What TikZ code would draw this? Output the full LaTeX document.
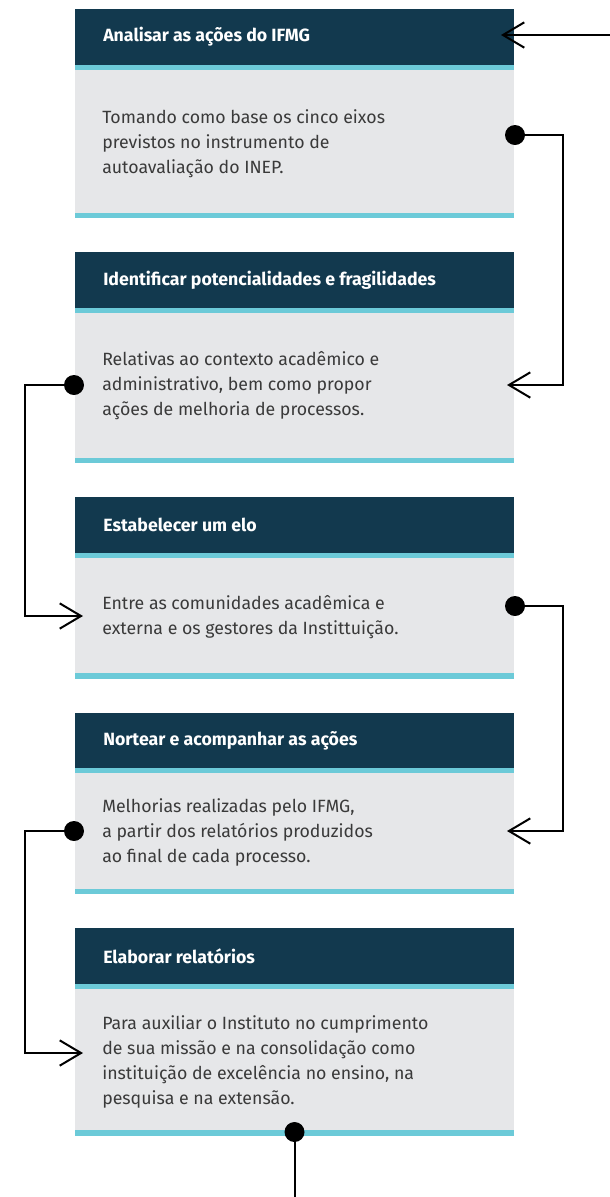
\documentclass[tikz,border=0pt]{standalone}
\usepackage{fontspec}
\setmainfont{Fira Sans}
\usetikzlibrary{arrows.meta}

\definecolor{headcol}{HTML}{12394E}
\definecolor{linecol}{HTML}{6CCAD8}
\definecolor{bodycol}{HTML}{E6E7E9}
\definecolor{textcol}{HTML}{3A3A3A}

\tikzset{
  headtext/.style={anchor=west, text=white, inner sep=0pt, font=\fontsize{13.3}{15}\selectfont\bfseries},
  bodytext/.style={anchor=west, text=textcol, inner sep=0pt, align=left, font=\fontsize{13.3}{18.75}\selectfont},
  conn/.style={line width=1.5pt, -{Straight Barb[length=16pt, width=19pt, line width=1.5pt]}},
  plain/.style={line width=1.5pt},
  dot/.style={fill=black, circle, inner sep=0pt, minimum size=15pt}
}

\begin{document}
\begin{tikzpicture}[x=0.75pt, y=-0.75pt]
    \useasboundingbox (0,0) rectangle (610,1197);
    % box 1
    \begin{scope}[shift={(75,9)}]
      \fill[headcol] (0,0) rectangle (439,56);
      \fill[linecol] (0,56) rectangle (439,61);
      \fill[bodycol] (0,61) rectangle (439,204);
      \fill[linecol] (0,204) rectangle (439,209);
      \node[headtext] (h1) at (28,28) {Analisar as ações do IFMG};
      \node[bodytext] (b1) at (27,135) {Tomando como base os cinco eixos\\previstos no instrumento de\\autoavaliação do INEP.};
      \coordinate (a1) at (426,26);
      \coordinate (d1) at (440,126);
    \end{scope}
    % box 2
    \begin{scope}[shift={(75,252)}]
      \fill[headcol] (0,0) rectangle (439,56);
      \fill[linecol] (0,56) rectangle (439,61);
      \fill[bodycol] (0,61) rectangle (439,206);
      \fill[linecol] (0,206) rectangle (439,211);
      \node[headtext] (h2) at (28,28) {Identificar potencialidades e fragilidades};
      \node[bodytext] (b2) at (27,134) {Relativas ao contexto acadêmico e\\administrativo, bem como propor\\ações de melhoria de processos.};
      \coordinate (a2) at (432,133);
      \coordinate (d2) at (-1,133);
    \end{scope}
    % box 3
    \begin{scope}[shift={(75,497)}]
      \fill[headcol] (0,0) rectangle (439,56);
      \fill[linecol] (0,56) rectangle (439,61);
      \fill[bodycol] (0,61) rectangle (439,176);
      \fill[linecol] (0,176) rectangle (439,182);
      \node[headtext] (h3) at (28,28) {Estabelecer um elo};
      \node[bodytext] (b3) at (27,120) {Entre as comunidades acadêmica e\\externa e os gestores da Instittuição.};
      \coordinate (a3) at (8,119);
      \coordinate (d3) at (440,109);
    \end{scope}
    % box 4
    \begin{scope}[shift={(75,713)}]
      \fill[headcol] (0,0) rectangle (439,55);
      \fill[linecol] (0,55) rectangle (439,60);
      \fill[bodycol] (0,60) rectangle (439,176);
      \fill[linecol] (0,176) rectangle (439,181);
      \node[headtext] (h4) at (28,28) {Nortear e acompanhar as ações};
      \node[bodytext] (b4) at (27,119) {Melhorias realizadas pelo IFMG,\\a partir dos relatórios produzidos\\ao final de cada processo.};
      \coordinate (a4) at (432,118);
      \coordinate (d4) at (-1,118);
    \end{scope}
    % box 5
    \begin{scope}[shift={(75,928)}]
      \fill[headcol] (0,0) rectangle (439,56);
      \fill[linecol] (0,56) rectangle (439,61);
      \fill[bodycol] (0,61) rectangle (439,202);
      \fill[linecol] (0,202) rectangle (439,208);
      \node[headtext] (h5) at (28,28) {Elaborar relatórios};
      \node[bodytext] (b5) at (27,134) {Para auxiliar o Instituto no cumprimento\\de sua missão e na consolidação como\\instituição de excelência no ensino, na\\pesquisa e na extensão.};
      \coordinate (a5) at (8,125);
      \coordinate (d5) at (219.5,204);
    \end{scope}
    % connectors
    \coordinate (start) at (610,35);
    \coordinate (r1) at (563,0);
    \coordinate (l1) at (25,0);
    \coordinate (end) at (294.5,1197);
    \draw[conn] (start) -- (a1);
    \draw[conn] (d1) -- (d1 -| r1) |- (a2);
    \draw[conn] (d2) -- (d2 -| l1) |- (a3);
    \draw[conn] (d3) -- (d3 -| r1) |- (a4);
    \draw[conn] (d4) -- (d4 -| l1) |- (a5);
    \draw[plain] (d5) -- (end);
    \foreach \d in {d1,d2,d3,d4,d5}
      \node[dot] at (\d) {};
\end{tikzpicture}
\end{document}
